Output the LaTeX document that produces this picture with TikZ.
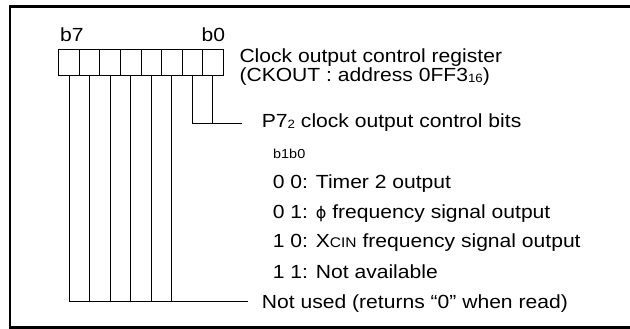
\documentclass[tikz,border=0pt]{standalone}
\usepackage{fontspec}
\setmainfont{Liberation Sans}[FakeStretch=1.11]
\newfontfamily\phifont{DejaVu Sans}
\begin{document}
\begin{tikzpicture}[x=1pt,y=-1pt,
  txt/.style={anchor=base west,inner sep=0pt,font=\fontsize{19}{22}\selectfont},
  smalltxt/.style={anchor=base west,inner sep=0pt,font=\fontsize{13}{15}\selectfont},
  thin/.style={line width=1pt},
  frame/.style={line width=2.5pt}]
\useasboundingbox (0,0) rectangle (630,329);
\clip (0,0) rectangle (630,329);
\draw[frame] (10,6.5) rectangle (640,327.5);
% register cells
\foreach \i in {0,...,7}{
  \node[draw,thin,minimum width=20.55pt,minimum height=25.7pt,inner sep=0pt,anchor=north west]
    (c\i) at ({58.3+20.55*\i},49.3) {};
}
% labels
\node[txt] (b7) at (60,42) {b7};
\node[txt] (b0) at (201.5,42) {b0};
\node[txt] (t1) at (239.3,63) {Clock output control register};
\node[txt] (t2) at (239.3,82) {(CKOUT : address 0FF3\raisebox{-1pt}{\fontsize{12}{12}\selectfont 16})};
\node[txt] (t3) at (261.7,128) {P7\raisebox{-1pt}{\fontsize{12}{12}\selectfont 2} clock output control bits};
\node[smalltxt] (t4) at (273,158) {b1b0};
\node[txt] (t5) at (272.7,188) {0 0: Timer 2 output};
\node[txt] (t6) at (272.7,218) {0 1: {\phifont\fontsize{16}{16}\selectfont ϕ} frequency signal output};
\node[txt] (t7) at (272.7,247) {1 0: X{\fontsize{14}{14}\selectfont CIN} frequency signal output};
\node[txt] (t8) at (272.7,278) {1 1: Not available};
\node[txt] (t9) at (261.7,308) {Not used (returns “0” when read)};
% connectors
\coordinate (j1) at (c6.south |- 0,124);
\coordinate (e1) at (241.7,124);
\draw[thin] (c7.south) |- (e1);
\draw[thin] (c6.south) -- (j1) -- (e1);
\coordinate (j0) at (c0.south |- 0,301);
\coordinate (e0) at (248.3,301);
\draw[thin] (c0.south) -- (j0) -- (e0);
\foreach \i in {1,...,5}{
  \draw[thin] (c\i.south) -- (c\i.south |- j0);
}
\end{tikzpicture}
\end{document}
